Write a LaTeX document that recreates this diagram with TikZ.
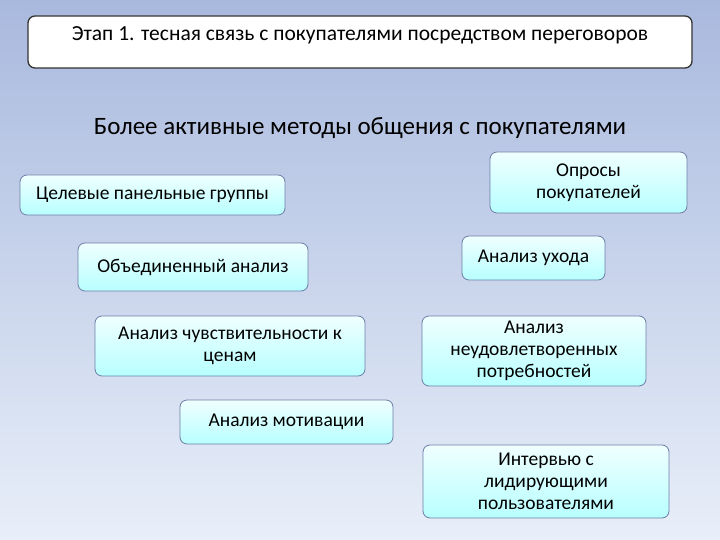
\documentclass[tikz,border=0pt]{standalone}
\usepackage{fontspec}
\setmainfont{Carlito}
\begin{document}
\begin{tikzpicture}[x=1pt,y=-1pt,
  bx/.style={draw=cyan!40!blue!45!gray, line width=0.8pt, rounded corners=7pt, top color=cyan!6, bottom color=cyan!28, align=center, font=\fontsize{19.5}{22}\selectfont, inner sep=0pt},
  ]
\shade[top color={rgb,255:red,169;green,185;blue,222}, bottom color={rgb,255:red,232;green,239;blue,249}] (0,0) rectangle (720,540);
\useasboundingbox (0,0) rectangle (720,540);
\node[draw=black!80, line width=1.3pt, fill=white, rounded corners=7pt, minimum width=664pt, minimum height=52pt] (t) at (360,42) {};
\node[font=\fontsize{21.5}{25}\selectfont] (tt) at (360,35) {Этап 1. тесная связь с покупателями посредством переговоров};
\node[font=\fontsize{25}{30}\selectfont] (h) at (360,128) {Более активные методы общения с покупателями};
\newcommand{\bb}[6]{\node[bx, minimum width=#3pt, minimum height=#4pt] (#5) at (#1,#2) {#6};}
\bb{152.5}{195}{265}{40}{a}{Целевые панельные группы}
\bb{193}{267}{230}{48}{b}{Объединенный анализ}
\bb{230}{346}{270}{60}{c}{Анализ чувствительности к\\ценам}
\bb{286.5}{422}{213}{44}{d}{Анализ мотивации}
\bb{588.5}{182.5}{197}{61}{e}{Опросы\\покупателей}
\bb{533.5}{258}{143}{44}{f}{Анализ ухода}
\bb{534}{351}{224}{70}{g}{Анализ\\неудовлетворенных\\потребностей}
\bb{546}{481.5}{246}{73}{k}{Интервью с\\лидирующими\\пользователями}
\end{tikzpicture}
\end{document}
